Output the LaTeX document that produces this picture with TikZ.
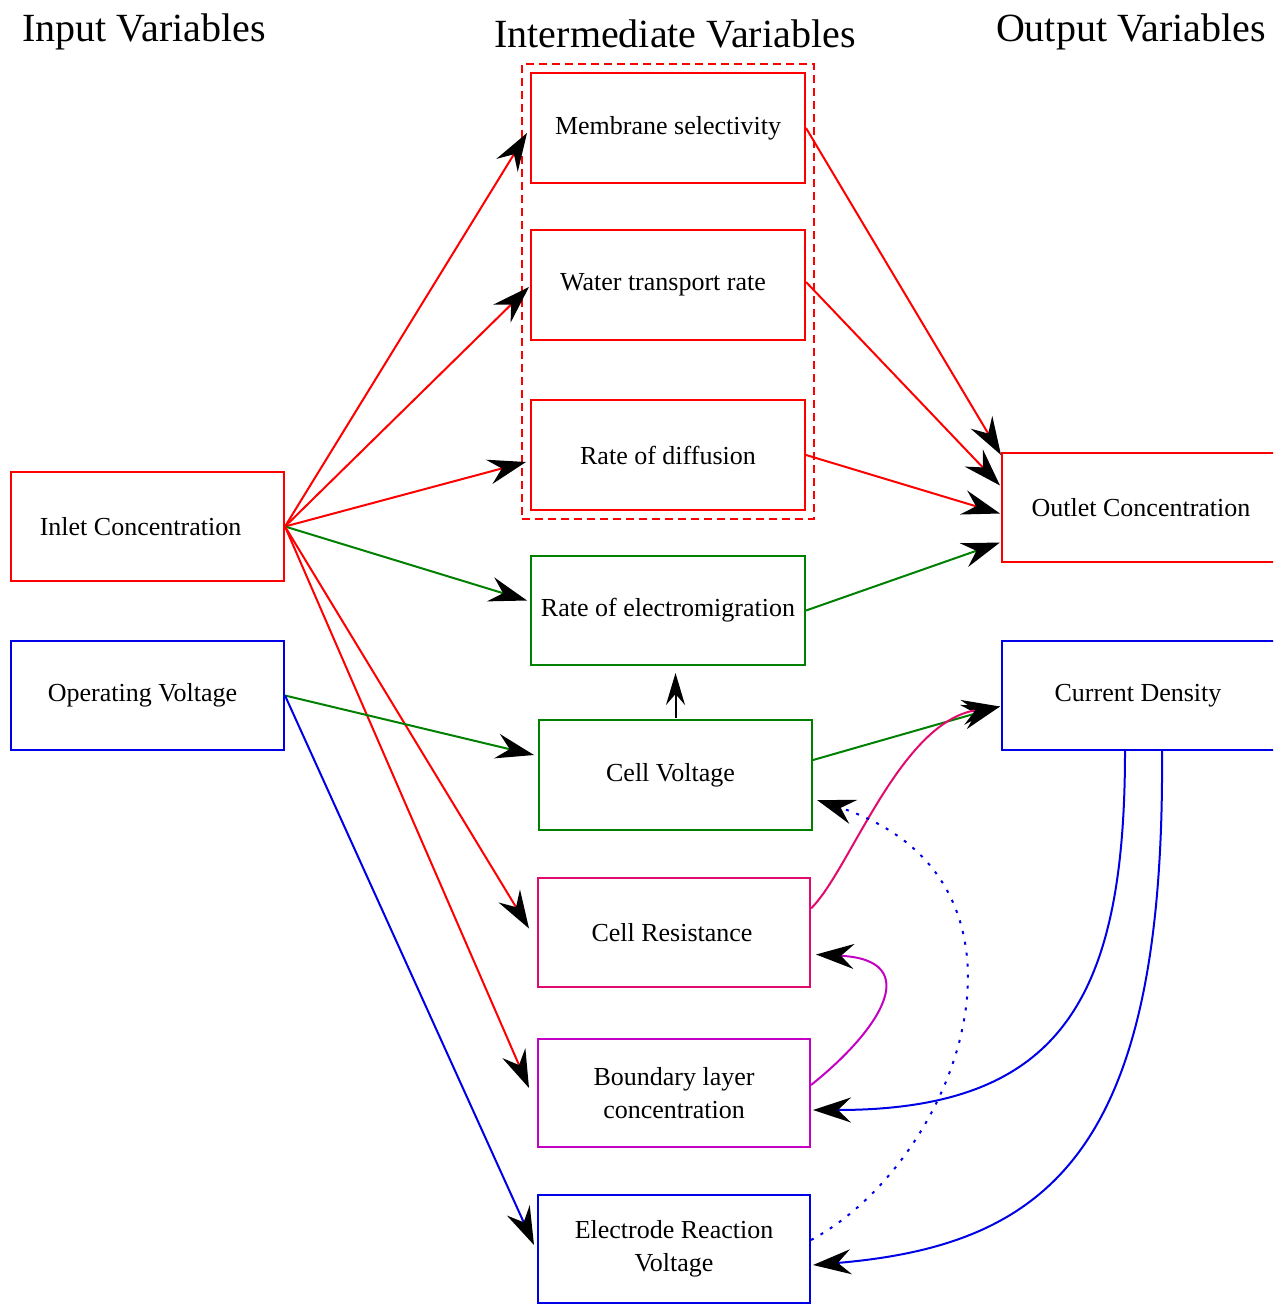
\documentclass[tikz,border=0pt]{standalone}
\usepackage{fontspec}
\setmainfont{Liberation Serif}
\usetikzlibrary{arrows.meta,fit,calc}
\definecolor{cred}{RGB}{255,0,0}
\definecolor{cgreen}{RGB}{0,128,0}
\definecolor{cblue}{RGB}{0,0,230}
\definecolor{ccrim}{RGB}{225,10,110}
\definecolor{cmag}{RGB}{195,0,195}
\begin{document}
\begin{tikzpicture}[x=1pt,y=-1pt,
  box/.style={draw=#1, text=black, rectangle, line width=2pt, inner sep=0pt, align=center,
    font=\fontsize{26}{33}\selectfont, minimum width=273pt, minimum height=109pt},
  title/.style={font=\fontsize{40}{48}\selectfont, inner sep=0pt},
  arr/.style={line width=2pt, -{Stealth[black,length=38pt,width=25pt,inset=13pt]}}
]
\useasboundingbox (0,0) rectangle (1273,1305);
\clip (0,0) rectangle (1273,1305);
\fill[white] (0,0) rectangle (1273,1305);

% titles
\node[title] (tin) at (144,32) {Input Variables};
\node[title] (tmid) at (675,34) {Intermediate Variables};
\node[title] (tout) at (1131,32) {Output Variables};

% input boxes
\node[box=cred] (inlet) at (147.5,526.5) {\hspace*{-14pt}Inlet Concentration};
\node[box=cblue] (opv) at (147.5,695.5) {\hspace*{-10pt}Operating Voltage};

% intermediate boxes
\node[box=cred, minimum width=274pt, minimum height=110pt] (mem) at (668,128) {Membrane selectivity};
\node[box=cred, minimum width=274pt, minimum height=110pt] (wat) at (668,285) {\hspace*{-10pt}Water transport rate};
\node[box=cred, minimum width=274pt, minimum height=110pt] (dif) at (668,455) {Rate of diffusion};
\node[draw=cred, dash pattern=on 8pt off 5pt, line width=2pt, inner sep=8pt, fit=(mem)(dif)] (grp) {};
\node[box=cgreen, minimum width=274pt] (elm) at (668,610.5) {Rate of electromigration};
\node[box=cgreen, minimum height=110pt] (cv) at (675.5,775) {\hspace*{-10pt}Cell Voltage};
\node[box=ccrim, minimum width=272pt] (cr) at (674,932.5) {\hspace*{-4pt}Cell Resistance};
\node[box=cmag, minimum width=272pt, minimum height=108pt] (bl) at (674,1093) {Boundary layer\\concentration};
\node[box=cblue, minimum width=272pt, minimum height=108pt] (erv) at (674,1249) {Electrode Reaction\\Voltage};

% output boxes
\node[box=cred, minimum width=278pt] (outc) at (1141,507.5) {Outlet Concentration};
\node[box=cblue, minimum width=278pt] (cd) at (1141,695.5) {\hspace*{-6pt}Current Density};

% inlet connectors
\draw[arr, cred] (inlet.east) -- ($(mem.west)+(-3,5)$);
\draw[arr, cred] (inlet.east) -- ($(wat.west)+(-1,2)$);
\draw[arr, cred] (inlet.east) -- ($(dif.west)+(-4,7)$);
\draw[arr, cgreen] (inlet.east) -- ($(elm.west)+(-3,-10)$);
\draw[arr, cred] (inlet.east) -- ($(cr.west)+(-8,-4)$);
\draw[arr, cred] (inlet.east) -- ($(bl.west)+(-8,-5)$);

% operating voltage connectors
\draw[arr, cgreen] (opv.east) -- ($(cv.west)+(-4,-20)$);
\draw[arr, cblue] (opv.east) -- ($(erv.west)+(-3,-4)$);

% cell voltage -> electromigration
\coordinate (cvtop) at ($(cv.north)+(0,-1)$);
\draw[line width=2pt, black, -{Stealth[black,length=32pt,width=19pt,inset=11pt]}] (cvtop) -- ($(cvtop |- elm.south)+(0,7)$);

% to outlet
\draw[arr, cred] (mem.east) -- ($(outc.north west)+(0,3)$);
\draw[arr, cred] ($(wat.east)+(0,-3)$) -- ($(outc.west)+(-1,-22)$);
\draw[arr, cred] (dif.east) -- ($(outc.west)+(-1,6)$);
\draw[arr, cgreen] (elm.east) -- ($(outc.west)+(-1,35)$);

% to current density
\draw[arr, cgreen] ($(cv.east)+(0,-15)$) -- ($(cd.west)+(-1,11)$);
\draw[arr, ccrim] ($(cr.east)+(0,-24)$) .. controls (850,870) and (900,722) .. ($(cd.west)+(-1,11)$);

% boundary layer -> cell resistance
\draw[arr, cmag] ($(bl.east)+(0,-8)$) .. controls (880,1030) and (925,960) .. ($(cr.east)+(5,22)$);

% current density -> boundary layer / electrode
\draw[arr, cblue] ($(cd.south)+(-16,0)$) .. controls (1125,1000) and (1060,1110) .. ($(bl.east)+(2,17)$);
\draw[arr, cblue] ($(cd.south)+(21,0)$) .. controls (1165,1150) and (1050,1245) .. ($(erv.east)+(2,16)$);

% dotted electrode -> cell voltage
\draw[arr, cblue, dash pattern=on 3pt off 8pt] ($(erv.east)+(0,-9)$) .. controls (960,1160) and (1060,880) .. ($(cv.east)+(4,25)$);

\end{tikzpicture}
\end{document}
